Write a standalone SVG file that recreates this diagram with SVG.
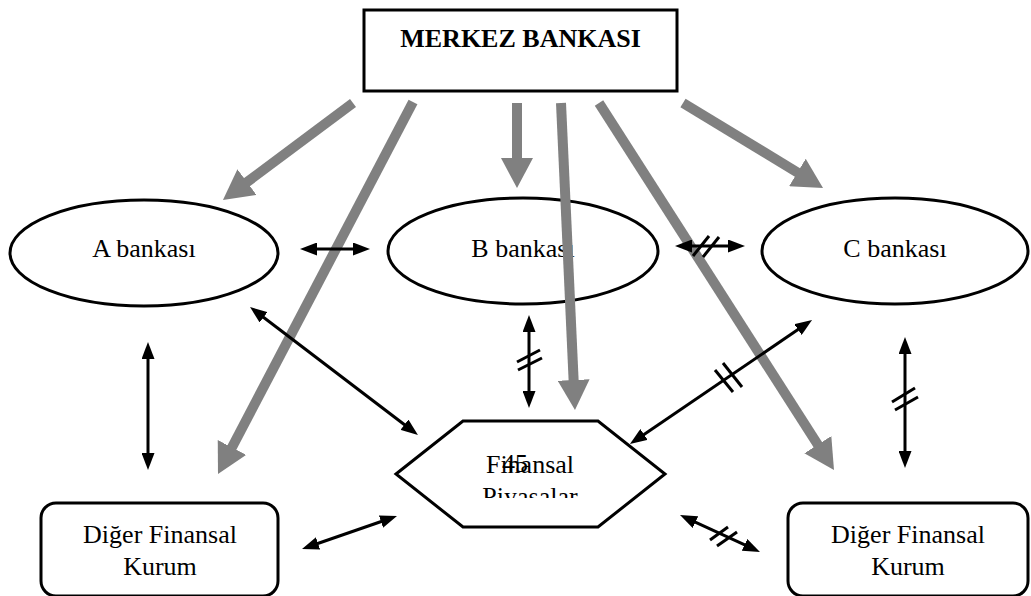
<svg xmlns="http://www.w3.org/2000/svg" width="1031" height="596" viewBox="0 0 1031 596">
<style>
.node{fill:#fff;stroke:#000;stroke-width:3}
.t{font-family:"Liberation Serif","Times New Roman",serif;font-size:26px;fill:#000;text-anchor:middle}
.tb{font-weight:bold}
.g{stroke:#808080;stroke-width:10;fill:none;marker-end:url(#gh)}
.b{stroke:#000;stroke-width:3;fill:none;marker-start:url(#bh);marker-end:url(#bh)}
.s{stroke:#000;stroke-width:3;fill:none}
</style>
<defs>
<marker id="gh" viewBox="0 0 30 32" refX="2" refY="16" markerWidth="30" markerHeight="32" markerUnits="userSpaceOnUse" orient="auto"><path d="M0,0 L30,16 L0,32 z" fill="#808080"/></marker>
<marker id="bh" viewBox="0 0 17 13" refX="8" refY="6.5" markerWidth="17" markerHeight="13" markerUnits="userSpaceOnUse" orient="auto-start-reverse"><path d="M0,0 L17,6.5 L0,13 z" fill="#000"/></marker>
<clipPath id="hc"><rect x="396" y="421" width="270" height="77"/></clipPath>
</defs>
<rect width="1031" height="596" fill="#fff"/>
<g id="merkez"><rect class="node" x="364" y="10" width="313" height="81" stroke-width="3.5"/><text class="t tb" x="520.5" y="47">MERKEZ BANKASI</text></g>
<g id="a-bankasi"><ellipse class="node" cx="144" cy="253" rx="134" ry="53"/><text class="t" x="144" y="257">A bankası</text></g>
<g id="b-bankasi"><ellipse class="node" cx="523" cy="251" rx="135" ry="53"/><text class="t" x="523" y="257">B bankası</text></g>
<g id="c-bankasi"><ellipse class="node" cx="895" cy="251" rx="133" ry="53"/><text class="t" x="895" y="257">C bankası</text></g>
<g id="finansal-piyasalar"><polygon class="node" points="396,474 463,421 598,421 665,474 598,527 463,527"/><g clip-path="url(#hc)"><text class="t" x="530" y="473">Finansal</text><text class="t" x="530" y="505">Piyasalar</text></g><text class="t" x="515" y="472">45</text></g>
<g id="diger-sol"><rect class="node" x="41" y="503" width="237" height="93" rx="15"/><text class="t" x="160" y="543">Diğer Finansal</text><text class="t" x="160" y="575">Kurum</text></g>
<g id="diger-sag"><rect class="node" x="788" y="503" width="240" height="93" rx="15"/><text class="t" x="908" y="543">Diğer Finansal</text><text class="t" x="908" y="575">Kurum</text></g>
<g id="connectors">
<line class="g" x1="353" y1="103" x2="245.4" y2="183.3"/>
<line class="g" x1="413" y1="102" x2="231" y2="449.2"/>
<line class="g" x1="517" y1="103" x2="517" y2="160"/>
<line class="g" x1="561" y1="103" x2="573.7" y2="382"/>
<line class="g" x1="599" y1="103" x2="818.9" y2="446.4"/>
<line class="g" x1="683" y1="103" x2="799.1" y2="173.5"/>
<line class="b" x1="309" y1="249" x2="361" y2="249"/>
<line class="b" x1="684" y1="246" x2="736" y2="246"/>
<line class="s" x1="693" y1="256" x2="709" y2="236"/>
<line class="s" x1="703" y1="257" x2="719" y2="237"/>
<line class="b" x1="148" y1="351" x2="148" y2="461"/>
<line class="b" x1="257.2" y1="312.5" x2="410.8" y2="429.5"/>
<line class="b" x1="529" y1="324" x2="529" y2="399"/>
<line class="s" x1="517" y1="362" x2="540" y2="350"/>
<line class="s" x1="518" y1="370" x2="542" y2="358"/>
<line class="b" x1="804.6" y1="325.1" x2="637.4" y2="438.9"/>
<line class="s" x1="715" y1="370" x2="733" y2="392"/>
<line class="s" x1="723" y1="363" x2="742" y2="387"/>
<line class="b" x1="905" y1="346" x2="905" y2="459"/>
<line class="s" x1="892" y1="402" x2="915" y2="388"/>
<line class="s" x1="895" y1="410" x2="918" y2="397"/>
<line class="b" x1="310.5" y1="546" x2="388.5" y2="519"/>
<line class="b" x1="688.2" y1="518.8" x2="751.8" y2="548.2"/>
<line class="s" x1="710" y1="540" x2="728" y2="527"/>
<line class="s" x1="717" y1="546" x2="737" y2="532"/>
</g>
</svg>
